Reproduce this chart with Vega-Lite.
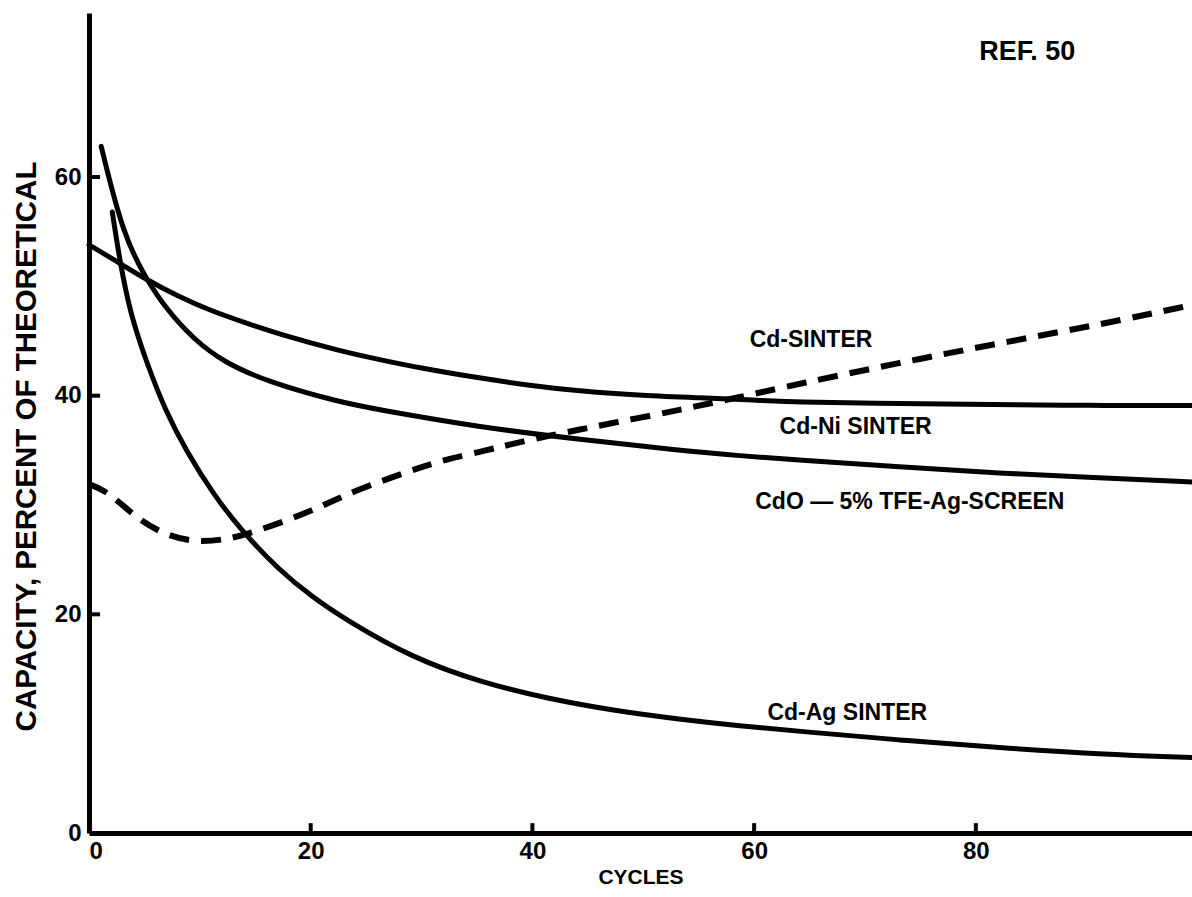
{
  "$schema": "https://vega.github.io/schema/vega-lite/v6.json",
  "width": 1103,
  "height": 820,
  "autosize": "none",
  "padding": {"left": 89, "top": 13, "right": 0, "bottom": 64},
  "background": "white",
  "config": {"view": {"stroke": null}, "font": "Liberation Sans"},
  "datasets": {
    "curves": [
      {"series": "Cd-SINTER", "cycles": 0, "capacity": 53.8},
      {"series": "Cd-SINTER", "cycles": 2.8, "capacity": 52.1},
      {"series": "Cd-SINTER", "cycles": 5.2, "capacity": 50.6},
      {"series": "Cd-SINTER", "cycles": 8, "capacity": 49.1},
      {"series": "Cd-SINTER", "cycles": 10.9, "capacity": 47.8},
      {"series": "Cd-SINTER", "cycles": 14, "capacity": 46.7},
      {"series": "Cd-SINTER", "cycles": 17.2, "capacity": 45.6},
      {"series": "Cd-SINTER", "cycles": 22.6, "capacity": 44.1},
      {"series": "Cd-SINTER", "cycles": 26.2, "capacity": 43.3},
      {"series": "Cd-SINTER", "cycles": 30, "capacity": 42.5},
      {"series": "Cd-SINTER", "cycles": 35.3, "capacity": 41.6},
      {"series": "Cd-SINTER", "cycles": 40, "capacity": 40.9},
      {"series": "Cd-SINTER", "cycles": 44.3, "capacity": 40.4},
      {"series": "Cd-SINTER", "cycles": 50, "capacity": 40.0},
      {"series": "Cd-SINTER", "cycles": 55.1, "capacity": 39.8},
      {"series": "Cd-SINTER", "cycles": 60, "capacity": 39.6},
      {"series": "Cd-SINTER", "cycles": 64.1, "capacity": 39.4},
      {"series": "Cd-SINTER", "cycles": 70, "capacity": 39.3},
      {"series": "Cd-SINTER", "cycles": 82.1, "capacity": 39.2},
      {"series": "Cd-SINTER", "cycles": 90, "capacity": 39.1},
      {"series": "Cd-SINTER", "cycles": 99.5, "capacity": 39.1},
      {"series": "Cd-Ni SINTER", "cycles": 1.1, "capacity": 62.8},
      {"series": "Cd-Ni SINTER", "cycles": 3.1, "capacity": 54.6},
      {"series": "Cd-Ni SINTER", "cycles": 5.2, "capacity": 50.6},
      {"series": "Cd-Ni SINTER", "cycles": 7, "capacity": 47.9},
      {"series": "Cd-Ni SINTER", "cycles": 9.4, "capacity": 45.2},
      {"series": "Cd-Ni SINTER", "cycles": 12.1, "capacity": 43.1},
      {"series": "Cd-Ni SINTER", "cycles": 16, "capacity": 41.3},
      {"series": "Cd-Ni SINTER", "cycles": 22.6, "capacity": 39.4},
      {"series": "Cd-Ni SINTER", "cycles": 26.2, "capacity": 38.7},
      {"series": "Cd-Ni SINTER", "cycles": 35.3, "capacity": 37.1},
      {"series": "Cd-Ni SINTER", "cycles": 44.3, "capacity": 36.0},
      {"series": "Cd-Ni SINTER", "cycles": 53.3, "capacity": 35.0},
      {"series": "Cd-Ni SINTER", "cycles": 58.7, "capacity": 34.5},
      {"series": "Cd-Ni SINTER", "cycles": 64.1, "capacity": 34.1},
      {"series": "Cd-Ni SINTER", "cycles": 73.1, "capacity": 33.5},
      {"series": "Cd-Ni SINTER", "cycles": 82.1, "capacity": 32.9},
      {"series": "Cd-Ni SINTER", "cycles": 91.2, "capacity": 32.5},
      {"series": "Cd-Ni SINTER", "cycles": 99.5, "capacity": 32.1},
      {"series": "Cd-Ag SINTER", "cycles": 2.1, "capacity": 56.8},
      {"series": "Cd-Ag SINTER", "cycles": 2.8, "capacity": 52.2},
      {"series": "Cd-Ag SINTER", "cycles": 3.7, "capacity": 47.6},
      {"series": "Cd-Ag SINTER", "cycles": 5.2, "capacity": 43.0},
      {"series": "Cd-Ag SINTER", "cycles": 6.9, "capacity": 38.6},
      {"series": "Cd-Ag SINTER", "cycles": 8.8, "capacity": 34.9},
      {"series": "Cd-Ag SINTER", "cycles": 11.2, "capacity": 31.0},
      {"series": "Cd-Ag SINTER", "cycles": 13.8, "capacity": 27.6},
      {"series": "Cd-Ag SINTER", "cycles": 17.2, "capacity": 24.0},
      {"series": "Cd-Ag SINTER", "cycles": 20, "capacity": 21.7},
      {"series": "Cd-Ag SINTER", "cycles": 23.3, "capacity": 19.4},
      {"series": "Cd-Ag SINTER", "cycles": 29.2, "capacity": 16.0},
      {"series": "Cd-Ag SINTER", "cycles": 35.3, "capacity": 13.8},
      {"series": "Cd-Ag SINTER", "cycles": 41.3, "capacity": 12.3},
      {"series": "Cd-Ag SINTER", "cycles": 47.3, "capacity": 11.2},
      {"series": "Cd-Ag SINTER", "cycles": 53.3, "capacity": 10.4},
      {"series": "Cd-Ag SINTER", "cycles": 58.7, "capacity": 9.8},
      {"series": "Cd-Ag SINTER", "cycles": 64.1, "capacity": 9.3},
      {"series": "Cd-Ag SINTER", "cycles": 73.1, "capacity": 8.5},
      {"series": "Cd-Ag SINTER", "cycles": 82.1, "capacity": 7.8},
      {"series": "Cd-Ag SINTER", "cycles": 91.2, "capacity": 7.2},
      {"series": "Cd-Ag SINTER", "cycles": 99.5, "capacity": 6.9},
      {"series": "CdO — 5% TFE-Ag-SCREEN", "cycles": 0, "capacity": 31.9},
      {"series": "CdO — 5% TFE-Ag-SCREEN", "cycles": 1.3, "capacity": 31.4},
      {"series": "CdO — 5% TFE-Ag-SCREEN", "cycles": 2.8, "capacity": 30.2},
      {"series": "CdO — 5% TFE-Ag-SCREEN", "cycles": 4.6, "capacity": 28.6},
      {"series": "CdO — 5% TFE-Ag-SCREEN", "cycles": 7, "capacity": 27.2},
      {"series": "CdO — 5% TFE-Ag-SCREEN", "cycles": 9.6, "capacity": 26.6},
      {"series": "CdO — 5% TFE-Ag-SCREEN", "cycles": 12.1, "capacity": 26.8},
      {"series": "CdO — 5% TFE-Ag-SCREEN", "cycles": 14.2, "capacity": 27.3},
      {"series": "CdO — 5% TFE-Ag-SCREEN", "cycles": 17.9, "capacity": 28.6},
      {"series": "CdO — 5% TFE-Ag-SCREEN", "cycles": 20.8, "capacity": 29.8},
      {"series": "CdO — 5% TFE-Ag-SCREEN", "cycles": 22.9, "capacity": 30.8},
      {"series": "CdO — 5% TFE-Ag-SCREEN", "cycles": 25.3, "capacity": 31.8},
      {"series": "CdO — 5% TFE-Ag-SCREEN", "cycles": 27.8, "capacity": 32.7},
      {"series": "CdO — 5% TFE-Ag-SCREEN", "cycles": 30.1, "capacity": 33.5},
      {"series": "CdO — 5% TFE-Ag-SCREEN", "cycles": 32.3, "capacity": 34.2},
      {"series": "CdO — 5% TFE-Ag-SCREEN", "cycles": 35.9, "capacity": 35.0},
      {"series": "CdO — 5% TFE-Ag-SCREEN", "cycles": 38.2, "capacity": 35.6},
      {"series": "CdO — 5% TFE-Ag-SCREEN", "cycles": 41.3, "capacity": 36.3},
      {"series": "CdO — 5% TFE-Ag-SCREEN", "cycles": 44.3, "capacity": 36.9},
      {"series": "CdO — 5% TFE-Ag-SCREEN", "cycles": 47.2, "capacity": 37.5},
      {"series": "CdO — 5% TFE-Ag-SCREEN", "cycles": 50.3, "capacity": 38.1},
      {"series": "CdO — 5% TFE-Ag-SCREEN", "cycles": 53.3, "capacity": 38.7},
      {"series": "CdO — 5% TFE-Ag-SCREEN", "cycles": 56, "capacity": 39.3},
      {"series": "CdO — 5% TFE-Ag-SCREEN", "cycles": 58.4, "capacity": 39.8},
      {"series": "CdO — 5% TFE-Ag-SCREEN", "cycles": 64.1, "capacity": 41.1},
      {"series": "CdO — 5% TFE-Ag-SCREEN", "cycles": 73.1, "capacity": 43.0},
      {"series": "CdO — 5% TFE-Ag-SCREEN", "cycles": 82.1, "capacity": 44.8},
      {"series": "CdO — 5% TFE-Ag-SCREEN", "cycles": 91.2, "capacity": 46.5},
      {"series": "CdO — 5% TFE-Ag-SCREEN", "cycles": 99.5, "capacity": 48.3}
    ],
    "labels": [
      {"label": "Cd-SINTER", "cycles": 59.6, "capacity": 45.1},
      {"label": "Cd-Ni SINTER", "cycles": 62.3, "capacity": 37.1},
      {"label": "CdO — 5% TFE-Ag-SCREEN", "cycles": 60.1, "capacity": 30.3},
      {"label": "Cd-Ag SINTER", "cycles": 61.2, "capacity": 11.0}
    ],
    "note": [
      {"label": "REF. 50", "cycles": 80.3, "capacity": 71.4}
    ],
    "xticks": [{"tick": 20}, {"tick": 40}, {"tick": 60}, {"tick": 80}],
    "yticks": [{"tick": 20}, {"tick": 40}, {"tick": 60}]
  },
  "layer": [
    {
      "data": {"name": "curves"},
      "transform": [{"filter": "datum.series != 'CdO — 5% TFE-Ag-SCREEN'"}],
      "mark": {"type": "line", "color": "black", "strokeWidth": 5, "interpolate": "basis", "strokeCap": "round"},
      "encoding": {
        "x": {
          "field": "cycles", "type": "quantitative",
          "scale": {"domain": [0, 99.5], "nice": false},
          "axis": {
            "values": [0, 20, 40, 60, 80],
            "grid": false,
            "domainColor": "black", "domainWidth": 5,
            "ticks": false,
            "labelFont": "Liberation Sans", "labelFontSize": 24, "labelFontWeight": "bold", "labelColor": "black",
            "labelPadding": 6,
            "title": "CYCLES",
            "titleFont": "Liberation Sans", "titleFontSize": 21, "titleFontWeight": "bold", "titleColor": "black",
            "titleBaseline": "alphabetic", "titleY": 50
          }
        },
        "y": {
          "field": "capacity", "type": "quantitative",
          "scale": {"domain": [0, 75], "nice": false},
          "axis": {
            "values": [0, 20, 40, 60],
            "grid": false,
            "domainColor": "black", "domainWidth": 5,
            "ticks": false,
            "labelFont": "Liberation Sans", "labelFontSize": 24, "labelFontWeight": "bold", "labelColor": "black",
            "labelPadding": 8,
            "title": "CAPACITY, PERCENT OF THEORETICAL",
            "titleFont": "Liberation Sans", "titleFontSize": 29.5, "titleFontWeight": "bold", "titleColor": "black",
            "titleBaseline": "middle", "titleX": -63, "titleY": 433
          }
        },
        "detail": {"field": "series"}
      }
    },
    {
      "data": {"name": "curves"},
      "transform": [{"filter": "datum.series == 'CdO — 5% TFE-Ag-SCREEN'"}],
      "mark": {"type": "line", "color": "black", "strokeWidth": 6, "interpolate": "basis", "strokeDash": [20, 12]},
      "encoding": {
        "x": {"field": "cycles", "type": "quantitative"},
        "y": {"field": "capacity", "type": "quantitative"}
      }
    },
    {
      "data": {"name": "xticks"},
      "mark": {"type": "rule", "color": "black", "strokeWidth": 4},
      "encoding": {
        "x": {"field": "tick", "type": "quantitative"},
        "y": {"datum": 0, "type": "quantitative"},
        "y2": {"datum": 0.9}
      }
    },
    {
      "data": {"name": "yticks"},
      "mark": {"type": "rule", "color": "black", "strokeWidth": 4},
      "encoding": {
        "y": {"field": "tick", "type": "quantitative"},
        "x": {"datum": 0, "type": "quantitative"},
        "x2": {"datum": 1.0}
      }
    },
    {
      "mark": {"type": "rule", "color": "black", "strokeWidth": 5},
      "encoding": {"y": {"datum": 75}}
    },
    {
      "data": {"name": "labels"},
      "mark": {"type": "text", "align": "left", "baseline": "middle", "font": "Liberation Sans", "fontWeight": "bold", "fontSize": 23, "color": "black"},
      "encoding": {
        "x": {"field": "cycles", "type": "quantitative"},
        "y": {"field": "capacity", "type": "quantitative"},
        "text": {"field": "label"}
      }
    },
    {
      "data": {"name": "note"},
      "mark": {"type": "text", "align": "left", "baseline": "middle", "font": "Liberation Sans", "fontWeight": "bold", "fontSize": 27, "color": "black"},
      "encoding": {
        "x": {"field": "cycles", "type": "quantitative"},
        "y": {"field": "capacity", "type": "quantitative"},
        "text": {"field": "label"}
      }
    }
  ]
}
